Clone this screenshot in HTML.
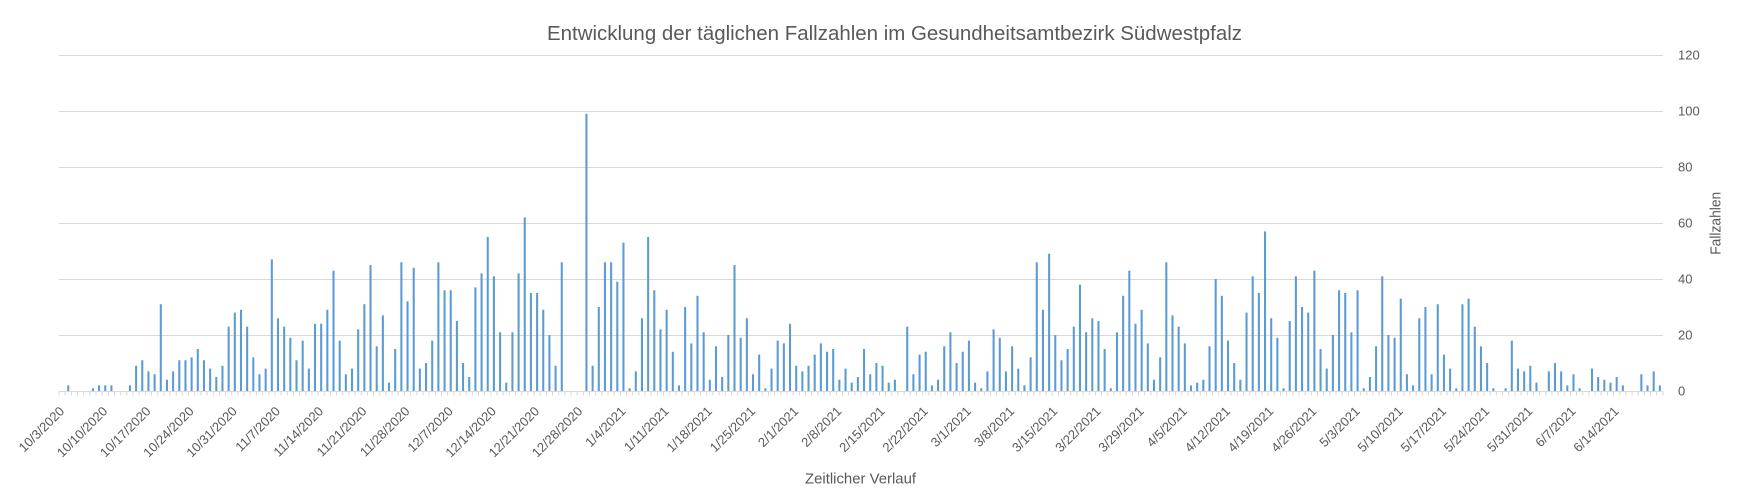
<!DOCTYPE html>
<html><head><meta charset="utf-8"><style>
html,body{margin:0;padding:0;background:#fff;}
svg{display:block;}
text{font-family:"Liberation Sans",sans-serif;fill:#595959;}
</style></head><body>
<svg width="1737" height="503" viewBox="0 0 1737 503" xmlns="http://www.w3.org/2000/svg">
<rect x="0" y="0" width="1737" height="503" fill="#fff"/>
<text x="894.5" y="40" font-size="20" text-anchor="middle" textLength="695" lengthAdjust="spacingAndGlyphs">Entwicklung der täglichen Fallzahlen im Gesundheitsamtbezirk Südwestpfalz</text>
<g stroke="#d9d9d9" stroke-width="1">
<line x1="58.5" y1="55.5" x2="1663" y2="55.5"/>
<line x1="58.5" y1="111.5" x2="1663" y2="111.5"/>
<line x1="58.5" y1="167.5" x2="1663" y2="167.5"/>
<line x1="58.5" y1="223.5" x2="1663" y2="223.5"/>
<line x1="58.5" y1="279.5" x2="1663" y2="279.5"/>
<line x1="58.5" y1="335.5" x2="1663" y2="335.5"/>
<line x1="58.5" y1="391.5" x2="1663" y2="391.5"/>
</g>
<line x1="58.5" y1="393.5" x2="1663.5" y2="393.5" stroke="#d6d6d6" stroke-width="4" stroke-dasharray="1 5.169"/>
<g transform="translate(0,391) scale(1,-2.8)">
<path fill="#5b9bd5" d="M61.05 0
m6.169 0 v2h2.06v-2m4.109 0 m6.169 0 m6.169 0 m6.169 0 v1h2.06v-1m4.109 0 v2h2.06v-2m4.109 0 v2h2.06v-2m4.109 0 v2h2.06v-2m4.109 0 m6.169 0
m6.169 0 v2h2.06v-2m4.109 0 v9h2.06v-9m4.109 0 v11h2.06v-11m4.109 0 v7h2.06v-7m4.109 0 v6h2.06v-6m4.109 0 v31h2.06v-31m4.109 0 v4h2.06v-4m4.109 0 v7h2.06v-7m4.109 0 v11h2.06v-11m4.109 0
v11h2.06v-11m4.109 0 v12h2.06v-12m4.109 0 v15h2.06v-15m4.109 0 v11h2.06v-11m4.109 0 v8h2.06v-8m4.109 0 v5h2.06v-5m4.109 0 v9h2.06v-9m4.109 0 v23h2.06v-23m4.109 0 v28h2.06v-28m4.109 0 v29h2.06v-29m4.109 0
v23h2.06v-23m4.109 0 v12h2.06v-12m4.109 0 v6h2.06v-6m4.109 0 v8h2.06v-8m4.109 0 v47h2.06v-47m4.109 0 v26h2.06v-26m4.109 0 v23h2.06v-23m4.109 0 v19h2.06v-19m4.109 0 v11h2.06v-11m4.109 0 v18h2.06v-18m4.109 0
v8h2.06v-8m4.109 0 v24h2.06v-24m4.109 0 v24h2.06v-24m4.109 0 v29h2.06v-29m4.109 0 v43h2.06v-43m4.109 0 v18h2.06v-18m4.109 0 v6h2.06v-6m4.109 0 v8h2.06v-8m4.109 0 v22h2.06v-22m4.109 0 v31h2.06v-31m4.109 0
v45h2.06v-45m4.109 0 v16h2.06v-16m4.109 0 v27h2.06v-27m4.109 0 v3h2.06v-3m4.109 0 v15h2.06v-15m4.109 0 v46h2.06v-46m4.109 0 v32h2.06v-32m4.109 0 v44h2.06v-44m4.109 0 v8h2.06v-8m4.109 0 v10h2.06v-10m4.109 0
v18h2.06v-18m4.109 0 v46h2.06v-46m4.109 0 v36h2.06v-36m4.109 0 v36h2.06v-36m4.109 0 v25h2.06v-25m4.109 0 v10h2.06v-10m4.109 0 v5h2.06v-5m4.109 0 v37h2.06v-37m4.109 0 v42h2.06v-42m4.109 0 v55h2.06v-55m4.109 0
v41h2.06v-41m4.109 0 v21h2.06v-21m4.109 0 v3h2.06v-3m4.109 0 v21h2.06v-21m4.109 0 v42h2.06v-42m4.109 0 v62h2.06v-62m4.109 0 v35h2.06v-35m4.109 0 v35h2.06v-35m4.109 0 v29h2.06v-29m4.109 0 v20h2.06v-20m4.109 0
v9h2.06v-9m4.109 0 v46h2.06v-46m4.109 0 m6.169 0 m6.169 0 m6.169 0 v99h2.06v-99m4.109 0 v9h2.06v-9m4.109 0 v30h2.06v-30m4.109 0 v46h2.06v-46m4.109 0 v46h2.06v-46m4.109 0
v39h2.06v-39m4.109 0 v53h2.06v-53m4.109 0 v1h2.06v-1m4.109 0 v7h2.06v-7m4.109 0 v26h2.06v-26m4.109 0 v55h2.06v-55m4.109 0 v36h2.06v-36m4.109 0 v22h2.06v-22m4.109 0 v29h2.06v-29m4.109 0 v14h2.06v-14m4.109 0
v2h2.06v-2m4.109 0 v30h2.06v-30m4.109 0 v17h2.06v-17m4.109 0 v34h2.06v-34m4.109 0 v21h2.06v-21m4.109 0 v4h2.06v-4m4.109 0 v16h2.06v-16m4.109 0 v5h2.06v-5m4.109 0 v20h2.06v-20m4.109 0 v45h2.06v-45m4.109 0
v19h2.06v-19m4.109 0 v26h2.06v-26m4.109 0 v6h2.06v-6m4.109 0 v13h2.06v-13m4.109 0 v1h2.06v-1m4.109 0 v8h2.06v-8m4.109 0 v18h2.06v-18m4.109 0 v17h2.06v-17m4.109 0 v24h2.06v-24m4.109 0 v9h2.06v-9m4.109 0
v7h2.06v-7m4.109 0 v9h2.06v-9m4.109 0 v13h2.06v-13m4.109 0 v17h2.06v-17m4.109 0 v14h2.06v-14m4.109 0 v15h2.06v-15m4.109 0 v4h2.06v-4m4.109 0 v8h2.06v-8m4.109 0 v3h2.06v-3m4.109 0 v5h2.06v-5m4.109 0
v15h2.06v-15m4.109 0 v6h2.06v-6m4.109 0 v10h2.06v-10m4.109 0 v9h2.06v-9m4.109 0 v3h2.06v-3m4.109 0 v4h2.06v-4m4.109 0 m6.169 0 v23h2.06v-23m4.109 0 v6h2.06v-6m4.109 0 v13h2.06v-13m4.109 0
v14h2.06v-14m4.109 0 v2h2.06v-2m4.109 0 v4h2.06v-4m4.109 0 v16h2.06v-16m4.109 0 v21h2.06v-21m4.109 0 v10h2.06v-10m4.109 0 v14h2.06v-14m4.109 0 v18h2.06v-18m4.109 0 v3h2.06v-3m4.109 0 v1h2.06v-1m4.109 0
v7h2.06v-7m4.109 0 v22h2.06v-22m4.109 0 v19h2.06v-19m4.109 0 v7h2.06v-7m4.109 0 v16h2.06v-16m4.109 0 v8h2.06v-8m4.109 0 v2h2.06v-2m4.109 0 v12h2.06v-12m4.109 0 v46h2.06v-46m4.109 0 v29h2.06v-29m4.109 0
v49h2.06v-49m4.109 0 v20h2.06v-20m4.109 0 v11h2.06v-11m4.109 0 v15h2.06v-15m4.109 0 v23h2.06v-23m4.109 0 v38h2.06v-38m4.109 0 v21h2.06v-21m4.109 0 v26h2.06v-26m4.109 0 v25h2.06v-25m4.109 0 v15h2.06v-15m4.109 0
v1h2.06v-1m4.109 0 v21h2.06v-21m4.109 0 v34h2.06v-34m4.109 0 v43h2.06v-43m4.109 0 v24h2.06v-24m4.109 0 v29h2.06v-29m4.109 0 v17h2.06v-17m4.109 0 v4h2.06v-4m4.109 0 v12h2.06v-12m4.109 0 v46h2.06v-46m4.109 0
v27h2.06v-27m4.109 0 v23h2.06v-23m4.109 0 v17h2.06v-17m4.109 0 v2h2.06v-2m4.109 0 v3h2.06v-3m4.109 0 v4h2.06v-4m4.109 0 v16h2.06v-16m4.109 0 v40h2.06v-40m4.109 0 v34h2.06v-34m4.109 0 v18h2.06v-18m4.109 0
v10h2.06v-10m4.109 0 v4h2.06v-4m4.109 0 v28h2.06v-28m4.109 0 v41h2.06v-41m4.109 0 v35h2.06v-35m4.109 0 v57h2.06v-57m4.109 0 v26h2.06v-26m4.109 0 v19h2.06v-19m4.109 0 v1h2.06v-1m4.109 0 v25h2.06v-25m4.109 0
v41h2.06v-41m4.109 0 v30h2.06v-30m4.109 0 v28h2.06v-28m4.109 0 v43h2.06v-43m4.109 0 v15h2.06v-15m4.109 0 v8h2.06v-8m4.109 0 v20h2.06v-20m4.109 0 v36h2.06v-36m4.109 0 v35h2.06v-35m4.109 0 v21h2.06v-21m4.109 0
v36h2.06v-36m4.109 0 v1h2.06v-1m4.109 0 v5h2.06v-5m4.109 0 v16h2.06v-16m4.109 0 v41h2.06v-41m4.109 0 v20h2.06v-20m4.109 0 v19h2.06v-19m4.109 0 v33h2.06v-33m4.109 0 v6h2.06v-6m4.109 0 v2h2.06v-2m4.109 0
v26h2.06v-26m4.109 0 v30h2.06v-30m4.109 0 v6h2.06v-6m4.109 0 v31h2.06v-31m4.109 0 v13h2.06v-13m4.109 0 v8h2.06v-8m4.109 0 v1h2.06v-1m4.109 0 v31h2.06v-31m4.109 0 v33h2.06v-33m4.109 0 v23h2.06v-23m4.109 0
v16h2.06v-16m4.109 0 v10h2.06v-10m4.109 0 v1h2.06v-1m4.109 0 m6.169 0 v1h2.06v-1m4.109 0 v18h2.06v-18m4.109 0 v8h2.06v-8m4.109 0 v7h2.06v-7m4.109 0 v9h2.06v-9m4.109 0 v3h2.06v-3m4.109 0
m6.169 0 v7h2.06v-7m4.109 0 v10h2.06v-10m4.109 0 v7h2.06v-7m4.109 0 v2h2.06v-2m4.109 0 v6h2.06v-6m4.109 0 v1h2.06v-1m4.109 0 m6.169 0 v8h2.06v-8m4.109 0 v5h2.06v-5m4.109 0
v4h2.06v-4m4.109 0 v3h2.06v-3m4.109 0 v5h2.06v-5m4.109 0 v2h2.06v-2m4.109 0 m6.169 0 m6.169 0 v6h2.06v-6m4.109 0 v2h2.06v-2m4.109 0 v7h2.06v-7m4.109 0 v2h2.06v-2m4.109 0"/>
</g>
<g font-size="13">
<text x="1678" y="59.6">120</text>
<text x="1678" y="115.6">100</text>
<text x="1678" y="171.6">80</text>
<text x="1678" y="227.6">60</text>
<text x="1678" y="283.6">40</text>
<text x="1678" y="339.6">20</text>
<text x="1678" y="395.6">0</text>
</g>
<text transform="translate(1720.5 223.3) rotate(-90)" font-size="14.5" text-anchor="middle" textLength="63" lengthAdjust="spacingAndGlyphs">Fallzahlen</text>
<g font-size="13" text-anchor="end">
<text transform="translate(65.08 412) rotate(-45)">10/3/2020</text>
<text transform="translate(108.27 412) rotate(-45)">10/10/2020</text>
<text transform="translate(151.45 412) rotate(-45)">10/17/2020</text>
<text transform="translate(194.63 412) rotate(-45)">10/24/2020</text>
<text transform="translate(237.81 412) rotate(-45)">10/31/2020</text>
<text transform="translate(281.00 412) rotate(-45)">11/7/2020</text>
<text transform="translate(324.18 412) rotate(-45)">11/14/2020</text>
<text transform="translate(367.36 412) rotate(-45)">11/21/2020</text>
<text transform="translate(410.54 412) rotate(-45)">11/28/2020</text>
<text transform="translate(453.73 412) rotate(-45)">12/7/2020</text>
<text transform="translate(496.91 412) rotate(-45)">12/14/2020</text>
<text transform="translate(540.09 412) rotate(-45)">12/21/2020</text>
<text transform="translate(583.28 412) rotate(-45)">12/28/2020</text>
<text transform="translate(626.46 412) rotate(-45)">1/4/2021</text>
<text transform="translate(669.64 412) rotate(-45)">1/11/2021</text>
<text transform="translate(712.83 412) rotate(-45)">1/18/2021</text>
<text transform="translate(756.01 412) rotate(-45)">1/25/2021</text>
<text transform="translate(799.19 412) rotate(-45)">2/1/2021</text>
<text transform="translate(842.37 412) rotate(-45)">2/8/2021</text>
<text transform="translate(885.56 412) rotate(-45)">2/15/2021</text>
<text transform="translate(928.74 412) rotate(-45)">2/22/2021</text>
<text transform="translate(971.92 412) rotate(-45)">3/1/2021</text>
<text transform="translate(1015.11 412) rotate(-45)">3/8/2021</text>
<text transform="translate(1058.29 412) rotate(-45)">3/15/2021</text>
<text transform="translate(1101.47 412) rotate(-45)">3/22/2021</text>
<text transform="translate(1144.66 412) rotate(-45)">3/29/2021</text>
<text transform="translate(1187.84 412) rotate(-45)">4/5/2021</text>
<text transform="translate(1231.02 412) rotate(-45)">4/12/2021</text>
<text transform="translate(1274.20 412) rotate(-45)">4/19/2021</text>
<text transform="translate(1317.39 412) rotate(-45)">4/26/2021</text>
<text transform="translate(1360.57 412) rotate(-45)">5/3/2021</text>
<text transform="translate(1403.75 412) rotate(-45)">5/10/2021</text>
<text transform="translate(1446.94 412) rotate(-45)">5/17/2021</text>
<text transform="translate(1490.12 412) rotate(-45)">5/24/2021</text>
<text transform="translate(1533.30 412) rotate(-45)">5/31/2021</text>
<text transform="translate(1576.49 412) rotate(-45)">6/7/2021</text>
<text transform="translate(1619.67 412) rotate(-45)">6/14/2021</text>
</g>
<text x="860.5" y="483.5" font-size="15" text-anchor="middle" textLength="111" lengthAdjust="spacingAndGlyphs">Zeitlicher Verlauf</text>
</svg>
</body></html>
